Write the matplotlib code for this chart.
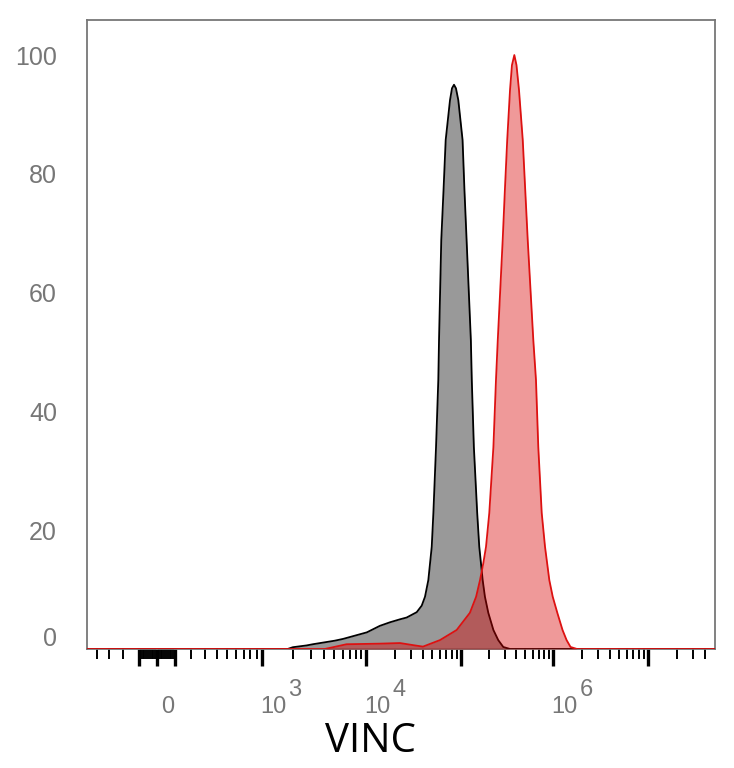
import numpy as np
import matplotlib
matplotlib.use('Agg')
import matplotlib.pyplot as plt
from matplotlib.ticker import FixedLocator, NullFormatter
from matplotlib import transforms

plt.rcParams['font.family'] = ['Liberation Sans', 'DejaVu Sans']

# histogram values: VINC intensity vs % of max
gray_x = [-495, 1.78e3, 2.0e3, 2.71e3, 3.11e3, 5.04e3, 6.05e3, 1.02e4, 1.40e4, 1.79e4,
          2.28e4, 2.68e4, 3.42e4, 3.86e4, 4.18e4, 4.53e4, 4.92e4, 5.12e4, 5.46e4, 5.77e4,
          5.87e4, 6.20e4, 6.55e4, 6.90e4, 7.66e4, 8.04e4, 8.44e4, 8.85e4, 9.37e4, 1.04e5,
          1.09e5, 1.15e5, 1.28e5, 1.31e5, 1.38e5, 1.50e5, 1.58e5, 1.72e5, 1.82e5, 1.98e5,
          2.25e5, 2.54e5, 2.88e5, 3.41e5, 5.06e7]
gray_y = [0, 0, 0.3, 0.6, 0.8, 1.4, 1.7, 2.8, 3.9, 4.5,
          5.0, 5.3, 6.2, 7.3, 8.8, 11.6, 17.2, 22.9, 34.0, 45.3,
          52.0, 68.9, 77.3, 85.7, 92.4, 94.4, 95.0, 94.4, 92.4, 85.7,
          77.3, 68.9, 52.0, 45.3, 34.0, 22.9, 17.2, 11.6, 8.8, 6.1,
          3.2, 1.5, 0.34, 0, 0]

red_x = [-495, 4.04e3, 4.85e3, 6.52e3, 1.40e4, 2.28e4, 3.28e4, 3.98e4, 6.01e4, 9.0e4,
         1.25e5, 1.46e5, 1.61e5, 1.75e5, 1.87e5, 2.03e5, 2.25e5, 2.40e5, 2.51e5, 2.84e5,
         3.0e5, 3.18e5, 3.41e5, 3.58e5, 3.80e5, 4.01e5, 4.27e5, 4.69e5, 4.99e5, 5.31e5,
         6.11e5, 6.53e5, 6.92e5, 7.54e5, 8.19e5, 9.12e5, 9.93e5, 1.11e6, 1.26e6, 1.39e6,
         1.53e6, 1.79e6, 5.06e7]
red_y = [0, 0, 0.3, 0.8, 0.9, 1.0, 0.6, 0.4, 1.5, 3.2,
         6.1, 8.8, 11.6, 14.5, 17.2, 22.9, 34.0, 45.3, 52.0, 68.9,
         77.3, 85.7, 94.1, 98.3, 100, 98.3, 94.1, 85.7, 77.3, 68.9,
         52.0, 45.3, 34.0, 22.9, 17.2, 11.6, 8.8, 6.1, 3.2, 1.5,
         0.34, 0, 0]

ytick_vals = [0, 20, 40, 60, 80, 100]
xlab_vals = [0, 1e3, 1e4, 1e6]
xlab_base = ['0', '10', '10', '10']
xlab_exp = ['', '3', '4', '6']

# biexponential-like display scale (FlowJo style axis)
C = 300.0
anchor_val = np.array([-1e3, 0, 1e3, 1e4, 1e5, 1e6, 1e7, 1e8])
anchor_pos = np.array([52, 157, 262, 366, 461, 553, 648, 743], dtype=float)
anchor_u = np.arcsinh(anchor_val / C)

def fwd(x):
    return np.interp(np.arcsinh(np.asarray(x, dtype=float) / C), anchor_u, anchor_pos)

def inv(p):
    return C * np.sinh(np.interp(np.asarray(p, dtype=float), anchor_pos, anchor_u))

fig = plt.figure(figsize=(7.34, 7.68), dpi=100)
ax = fig.add_axes([87/734, 1 - 649/768, 628/734, 629/768])
ax.set_xscale('function', functions=(fwd, inv))
ax.set_xlim(inv(87), inv(715))
ax.set_ylim(0, 105.9)

ax.fill_between(gray_x, gray_y, color='#999999', lw=0, zorder=2)
ax.plot(gray_x, gray_y, color='black', lw=1.3, zorder=3)
ax.fill_between(red_x, red_y, color=(0.85, 0.0, 0.0, 0.4), lw=0, zorder=4)
ax.plot(red_x, red_y, color='#dd1111', lw=1.3, zorder=5)

# ticks
major = [-100, 0, 100, 1e3, 1e4, 1e5, 1e6, 1e7]
minor = [-400, -300, -200] + [s * k * 10 for s in (-1, 1) for k in range(1, 10)] \
    + [k * 100 for k in range(2, 10)] \
    + [k * 10 ** d for d in range(3, 7) for k in range(2, 10)] + [2e7, 3e7, 4e7]
ax.xaxis.set_major_locator(FixedLocator(major))
ax.xaxis.set_minor_locator(FixedLocator(minor))
ax.xaxis.set_major_formatter(NullFormatter())
ax.xaxis.set_minor_formatter(NullFormatter())
ax.tick_params(axis='x', which='major', length=12, width=2.4, color='black')
ax.tick_params(axis='x', which='minor', length=7, width=1.4, color='black')

ax.set_yticks(ytick_vals)
ax.set_yticklabels([str(v) for v in ytick_vals])
ax.tick_params(axis='y', length=0, pad=21.6, labelsize=18, labelcolor='#777777')
lbl0 = ax.get_yticklabels()[0]
lbl0.set_transform(lbl0.get_transform() + transforms.ScaledTranslation(0, 0.12, fig.dpi_scale_trans))

for sp in ax.spines.values():
    sp.set_color('#777777')
    sp.set_linewidth(1.3)

# x tick labels, FlowJo style with big superscripts
blend = transforms.blended_transform_factory(ax.transData, ax.transAxes)
for v, b, e in zip(xlab_vals, xlab_base, xlab_exp):
    tr = blend + transforms.ScaledTranslation(0.11, -0.58, fig.dpi_scale_trans)
    ax.text(v, 0, b, transform=tr, ha='center', va='center', fontsize=17, color='#777777')
    if e:
        tr2 = blend + transforms.ScaledTranslation(0.33, -0.41, fig.dpi_scale_trans)
        ax.text(v, 0, e, transform=tr2, ha='center', va='center', fontsize=17, color='#777777')

ax.set_xlabel('VINC', fontsize=29, family=['Open Sans', 'DejaVu Sans'], color='black')
ax.xaxis.label.set_va('center')
ax.xaxis.set_label_coords(0.452, -0.148)

fig.savefig('out.png', dpi=100)
